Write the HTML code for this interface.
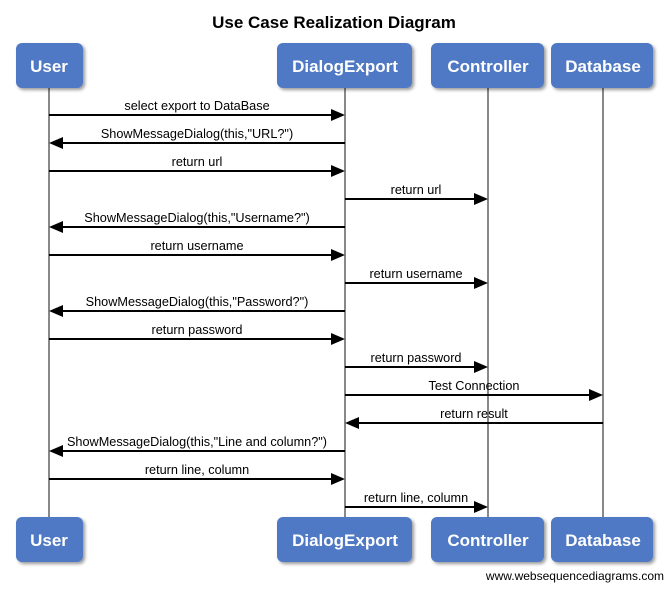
<!DOCTYPE html>
<html><head><style>
body{margin:0;background:#fff;}
</style></head><body>
<svg width="668" height="584" xmlns="http://www.w3.org/2000/svg" font-family="'Liberation Sans',sans-serif">
<defs>
<filter id="sh" x="-10%" y="-10%" width="130%" height="140%"><feDropShadow dx="2" dy="2" stdDeviation="1.5" flood-color="#000" flood-opacity="0.4"/></filter>
</defs>
<text x="334" y="28" text-anchor="middle" font-size="17" font-weight="bold">Use Case Realization Diagram</text>
<g stroke="#888" stroke-width="2">
<line x1="49" y1="88" x2="49" y2="517"/>
<line x1="345" y1="88" x2="345" y2="517"/>
<line x1="488" y1="88" x2="488" y2="517"/>
<line x1="603" y1="88" x2="603" y2="517"/>
</g>
<g fill="#4f79c4" filter="url(#sh)">
<rect x="16" y="43" width="67" height="45" rx="6"/>
<rect x="277" y="43" width="135" height="45" rx="6"/>
<rect x="431" y="43" width="113" height="45" rx="6"/>
<rect x="551" y="43" width="102" height="45" rx="6"/>
<rect x="16" y="517" width="67" height="45" rx="6"/>
<rect x="277" y="517" width="135" height="45" rx="6"/>
<rect x="431" y="517" width="113" height="45" rx="6"/>
<rect x="551" y="517" width="102" height="45" rx="6"/>
</g>
<g fill="#fff" font-size="17" font-weight="bold" text-anchor="middle">
<text x="49" y="72">User</text><text x="345" y="72">DialogExport</text><text x="488" y="72">Controller</text><text x="603" y="72">Database</text>
<text x="49" y="546">User</text><text x="345" y="546">DialogExport</text><text x="488" y="546">Controller</text><text x="603" y="546">Database</text>
</g>
<g stroke="#000" stroke-width="2">
<line x1="49" y1="115" x2="331" y2="115"/>
<line x1="345" y1="143" x2="63" y2="143"/>
<line x1="49" y1="171" x2="331" y2="171"/>
<line x1="345" y1="199" x2="474" y2="199"/>
<line x1="345" y1="227" x2="63" y2="227"/>
<line x1="49" y1="255" x2="331" y2="255"/>
<line x1="345" y1="283" x2="474" y2="283"/>
<line x1="345" y1="311" x2="63" y2="311"/>
<line x1="49" y1="339" x2="331" y2="339"/>
<line x1="345" y1="367" x2="474" y2="367"/>
<line x1="345" y1="395" x2="589" y2="395"/>
<line x1="603" y1="423" x2="359" y2="423"/>
<line x1="345" y1="451" x2="63" y2="451"/>
<line x1="49" y1="479" x2="331" y2="479"/>
<line x1="345" y1="507" x2="474" y2="507"/>
</g>
<g fill="#000">
<polygon points="345,115 331,109 331,121"/>
<polygon points="49,143 63,137 63,149"/>
<polygon points="345,171 331,165 331,177"/>
<polygon points="488,199 474,193 474,205"/>
<polygon points="49,227 63,221 63,233"/>
<polygon points="345,255 331,249 331,261"/>
<polygon points="488,283 474,277 474,289"/>
<polygon points="49,311 63,305 63,317"/>
<polygon points="345,339 331,333 331,345"/>
<polygon points="488,367 474,361 474,373"/>
<polygon points="603,395 589,389 589,401"/>
<polygon points="345,423 359,417 359,429"/>
<polygon points="49,451 63,445 63,457"/>
<polygon points="345,479 331,473 331,485"/>
<polygon points="488,507 474,501 474,513"/>
</g>
<g fill="#000" font-size="12.7" text-anchor="middle">
<text x="197" y="110">select export to DataBase</text>
<text x="197" y="138">ShowMessageDialog(this,"URL?")</text>
<text x="197" y="166">return url</text>
<text x="416" y="194">return url</text>
<text x="197" y="222">ShowMessageDialog(this,"Username?")</text>
<text x="197" y="250">return username</text>
<text x="416" y="278">return username</text>
<text x="197" y="306">ShowMessageDialog(this,"Password?")</text>
<text x="197" y="334">return password</text>
<text x="416" y="362">return password</text>
<text x="474" y="390">Test Connection</text>
<text x="474" y="418">return result</text>
<text x="197" y="446">ShowMessageDialog(this,"Line and column?")</text>
<text x="197" y="474">return line, column</text>
<text x="416" y="502">return line, column</text>
</g>
<text x="664" y="580" text-anchor="end" font-size="12">www.websequencediagrams.com</text>
</svg>
</body></html>
